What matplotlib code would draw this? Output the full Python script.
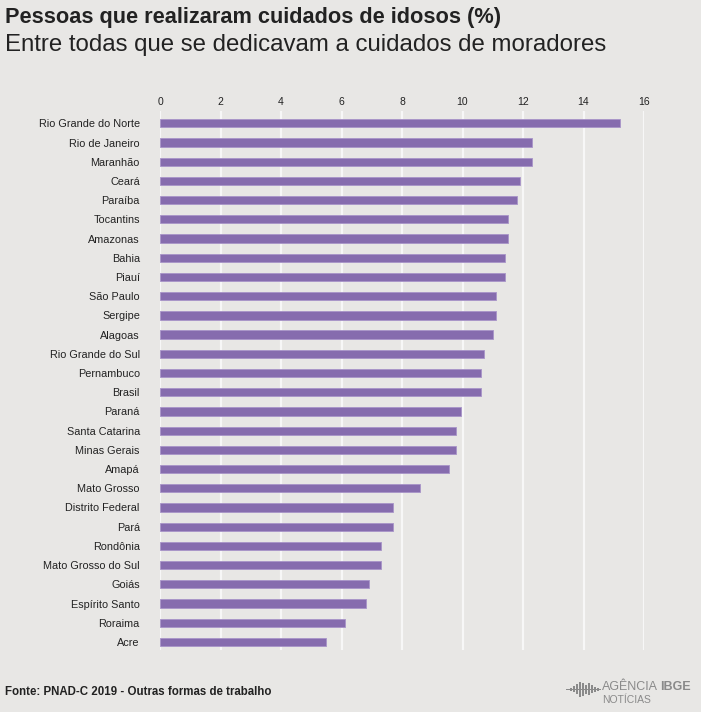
import matplotlib.pyplot as plt
from matplotlib.patches import Rectangle

estados = ['Rio Grande do Norte', 'Rio de Janeiro', 'Maranhão', 'Ceará', 'Paraíba',
           'Tocantins', 'Amazonas', 'Bahia', 'Piauí', 'São Paulo', 'Sergipe', 'Alagoas',
           'Rio Grande do Sul', 'Pernambuco', 'Brasil', 'Paraná', 'Santa Catarina',
           'Minas Gerais', 'Amapá', 'Mato Grosso', 'Distrito Federal', 'Pará', 'Rondônia',
           'Mato Grosso do Sul', 'Goiás', 'Espírito Santo', 'Roraima', 'Acre']
valores = [15.2, 12.3, 12.3, 11.9, 11.8, 11.5, 11.5, 11.4, 11.4, 11.1, 11.1, 11.0,
           10.7, 10.6, 10.6, 9.95, 9.8, 9.8, 9.55, 8.6, 7.7, 7.7, 7.3, 7.3, 6.9, 6.8, 6.1, 5.5]
ticks = [0, 2, 4, 6, 8, 10, 12, 14, 16]

plt.rcParams['font.family'] = ['Liberation Sans', 'DejaVu Sans']

fundo = '#e8e7e5'
roxo = '#866cae'

fig = plt.figure(figsize=(7.01, 7.12), dpi=100, facecolor=fundo)
W, H = 701, 712
ax = fig.add_axes([160 / W, 1 - 650 / H, 484 / W, 539 / H], facecolor=fundo)

y = list(range(len(estados)))
ax.barh(y, valores, height=0.43, color=roxo, edgecolor='#a894c8', linewidth=0.6, zorder=3)
ax.set_xlim(0, 16)
ax.set_ylim(len(estados) - 1 + 0.42, -0.64)
ax.set_xticks(ticks)
ax.set_xticklabels([str(t) for t in ticks])
ax.xaxis.tick_top()
ax.tick_params(axis='x', length=0, pad=3, labelsize=7.5, colors='#222222')
ax.set_yticks(y)
ax.set_yticklabels(estados)
ax.tick_params(axis='y', length=0, pad=14.5, labelsize=7.8, colors='#222222')
ax.grid(axis='x', color='#f7f7f7', linewidth=1.6, zorder=0)
ax.grid(axis='y', visible=False)
for s in ax.spines.values():
    s.set_visible(False)

fig.text(5 / W, 1 - 18 / H, 'Pessoas que realizaram cuidados de idosos (%)',
         fontsize=15.7, fontweight='bold', color='#222222', va='center', ha='left')
fig.text(5 / W, 1 - 45 / H, 'Entre todas que se dedicavam a cuidados de moradores',
         fontsize=17.3, color='#222222', va='center', ha='left')
fig.text(5 / W, 1 - 692 / H, 'Fonte: PNAD-C 2019 - Outras formas de trabalho',
         fontsize=8.3, fontweight='bold', color='#222222', va='center', ha='left')

# logo Agencia IBGE
cinza = '#8a8a8a'
alturas = [3, 6, 10, 15, 13, 9, 12, 8, 5, 3]
for i, a in enumerate(alturas):
    x0 = 570 + i * 3
    fig.add_artist(Rectangle((x0 / W, 1 - (689 + a / 2) / H), 1.6 / W, a / H,
                             transform=fig.transFigure, color=cinza, lw=0))
fig.add_artist(Rectangle((566 / W, 1 - 690 / H), 35 / W, 1.5 / H,
                         transform=fig.transFigure, color=cinza, lw=0))
fig.text(602 / W, 1 - 687 / H, 'AGÊNCIA', fontsize=9, color=cinza, va='center', ha='left')
fig.text(660 / W, 1 - 687 / H, 'IBGE', fontsize=9, fontweight='bold', color=cinza,
         va='center', ha='left')
fig.text(602 / W, 1 - 700 / H, 'NOTÍCIAS', fontsize=7.5, color=cinza, va='center', ha='left')

fig.savefig('out.png', dpi=100, facecolor=fundo)
